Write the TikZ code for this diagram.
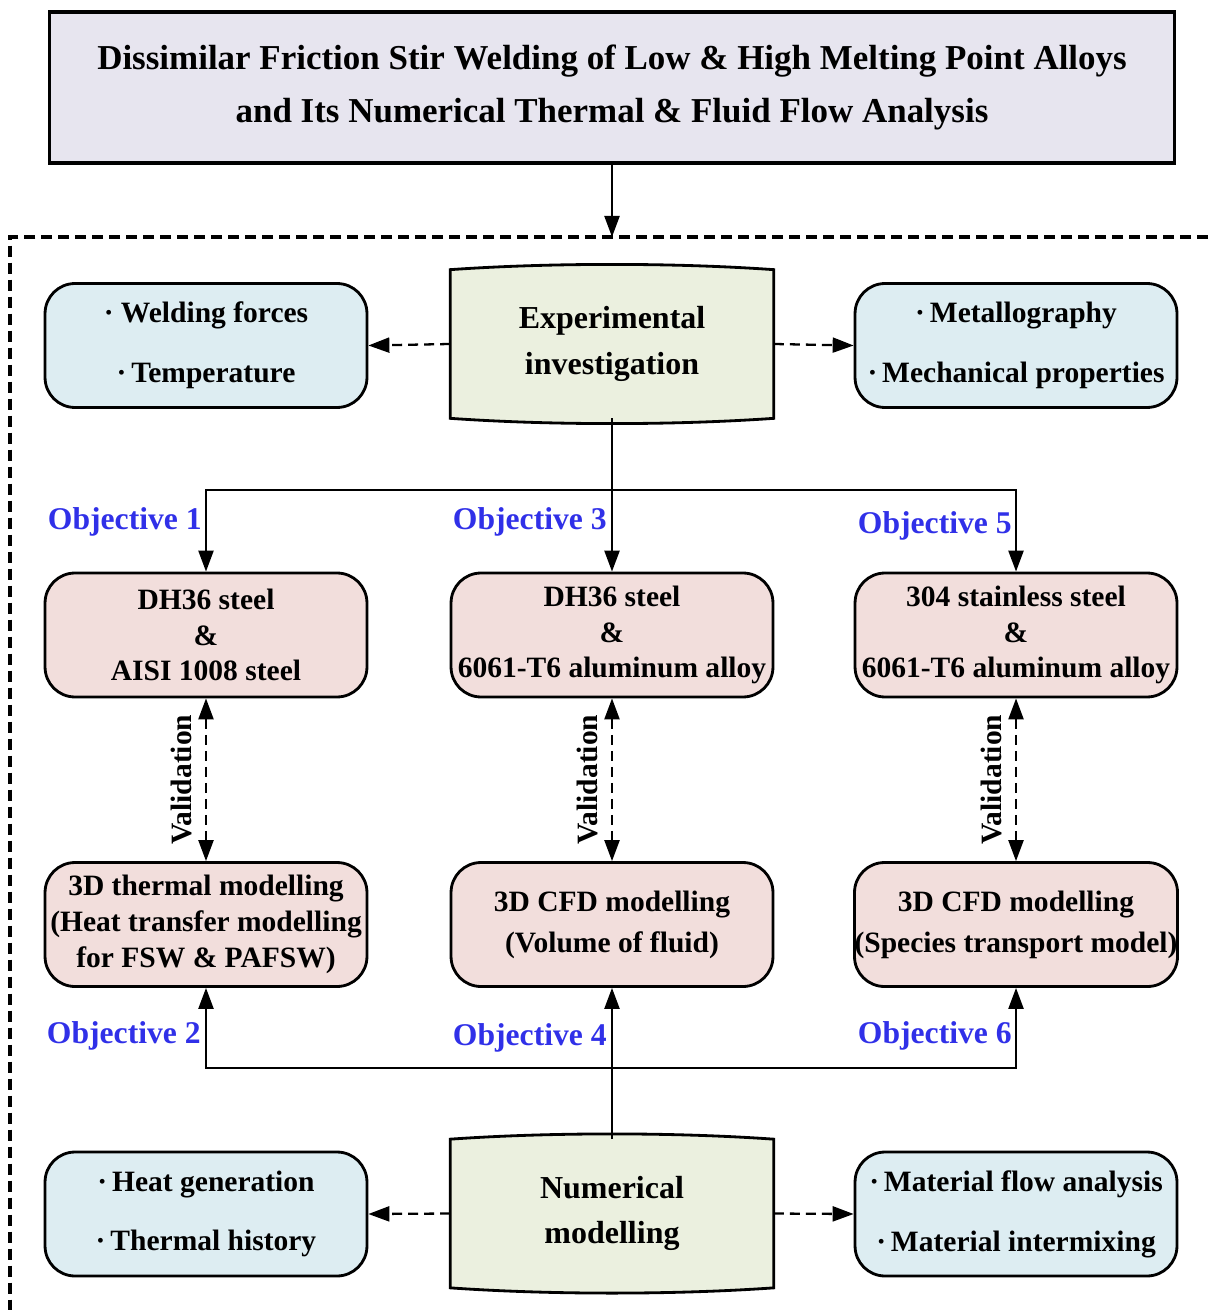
\documentclass[tikz,border=0pt]{standalone}
\usepackage{fontspec}
\setmainfont{Liberation Serif}
\usetikzlibrary{arrows.meta,backgrounds}

\definecolor{titlefill}{HTML}{E7E5EF}
\definecolor{greenfill}{HTML}{EBF0DF}
\definecolor{bluefill}{HTML}{DDEDF2}
\definecolor{pinkfill}{HTML}{F2DEDC}
\definecolor{objblue}{HTML}{3030E8}

\begin{document}
\begin{tikzpicture}[x=0.02cm,y=-0.02cm,
  arrow/.style={-{Triangle[length=0.42cm,width=0.3cm]},line width=1.3pt},
  dasharrow/.style={arrow,dash pattern=on 0.2cm off 0.12cm},
  valarrow/.style={{Triangle[length=0.42cm,width=0.3cm]}-{Triangle[length=0.42cm,width=0.3cm]},line width=1.3pt,dash pattern=on 0.2cm off 0.12cm},
  line/.style={line width=1.3pt},
  frame/.style={line width=2pt,dash pattern=on 0.22cm off 0.12cm},
  box/.style={draw=black,line width=1.6pt,rounded corners=0.6cm,minimum width=6.44cm,minimum height=2.48cm,align=center,inner sep=0pt},
  infobox/.style={box,fill=bluefill,font=\bfseries\fontsize{16.8}{34}\selectfont},
  matbox/.style={box,fill=pinkfill,font=\bfseries\fontsize{16.8}{20}\selectfont},
  cfdbox/.style={box,fill=pinkfill,font=\bfseries\fontsize{16.8}{23.3}\selectfont},
  mainbox/.style={minimum width=6.46cm,minimum height=2.96cm,align=center,font=\bfseries\fontsize{18.2}{26}\selectfont},
  mainshape/.style={draw=black,line width=1.6pt,fill=greenfill},
  titlebox/.style={draw=black,line width=1.8pt,fill=titlefill,minimum width=22.5cm,minimum height=3.02cm,align=center,font=\bfseries\fontsize{19.9}{30}\selectfont},
  objlabel/.style={anchor=east,inner sep=0pt,text=objblue,font=\bfseries\fontsize{18}{20}\selectfont},
  vlabel/.style={rotate=90,anchor=south,inner sep=0.26cm,font=\bfseries\fontsize{16.8}{20}\selectfont},
]
\useasboundingbox (0,0) rectangle (1208,1310);

% title and frame
\node[titlebox] (title) at (612,87.5) {Dissimilar Friction Stir Welding of Low \& High Melting Point Alloys\\and Its Numerical Thermal \& Fluid Flow Analysis};
\draw[frame] (1208,237) -- (10,237) -- (10,1310);
\coordinate (frametop) at (612,237);
\draw[arrow] (title.south) -- (frametop);

% experimental part
\node[mainbox] (exp) at (612,344) {Experimental\\investigation};
\node[infobox] (expL) at (206,345.5) {· Welding forces\\·\,Temperature};
\node[infobox] (expR) at (1016,345.5) {·\,Metallography\\·\,Mechanical properties};
\draw[dasharrow] (exp.west) -- (expL.east);
\draw[dasharrow] (exp.east) -- (expR.west);

% material combinations
\node[matbox] (mat1) at (206,635) {DH36 steel\\\&\\AISI 1008 steel};
\node[matbox] (mat3) at (612,635) {DH36 steel\\\&\\6061-T6 aluminum alloy};
\node[matbox] (mat5) at (1016,635) {304 stainless steel\\\&\\6061-T6 aluminum alloy};
\coordinate (split) at (612,490);
\draw[line] (exp.south) -- (split);
\draw[arrow] (split) -| (mat1.north);
\draw[arrow] (split) -- (mat3.north);
\draw[arrow] (split) -| (mat5.north);
\node[objlabel] (obj1) at (202,522) {Objective 1};
\node[objlabel] (obj3) at (607,522) {Objective 3};
\node[objlabel] (obj5) at (1012,526) {Objective 5};

% models
\node[matbox,font=\bfseries\fontsize{16.8}{20.5}\selectfont] (mod1) at (206,924.5) {3D thermal modelling\\(Heat transfer modelling\\for FSW \& PAFSW)};
\node[cfdbox] (mod3) at (612,924.5) {3D CFD modelling\\(Volume of fluid)};
\node[cfdbox] (mod5) at (1016,924.5) {3D CFD modelling\\(Species transport model)};
\draw[valarrow] (mat1.south) -- node[vlabel] {Validation} (mod1.north);
\draw[valarrow] (mat3.south) -- node[vlabel] {Validation} (mod3.north);
\draw[valarrow] (mat5.south) -- node[vlabel] {Validation} (mod5.north);

% numerical part
\node[mainbox] (num) at (612,1213.5) {Numerical\\modelling};
\node[infobox] (numL) at (206,1214) {·\,Heat generation\\·\,Thermal history};
\node[infobox] (numR) at (1016,1214) {·\,Material flow analysis\\·\,Material intermixing};
\draw[dasharrow] (num.west) -- (numL.east);
\draw[dasharrow] (num.east) -- (numR.west);
\coordinate (join) at (612,1068);
\draw[line] (num.north) -- (join);
\draw[arrow] (join) -| (mod1.south);
\draw[arrow] (join) -- (mod3.south);
\draw[arrow] (join) -| (mod5.south);
\node[objlabel] (obj2) at (201,1036) {Objective 2};
\node[objlabel] (obj4) at (607,1038) {Objective 4};
\node[objlabel] (obj6) at (1012,1036) {Objective 6};

% bulged outline of the two main boxes
\begin{scope}[on background layer]
\foreach \n in {exp,num}{
  \draw[mainshape] (\n.north west) .. controls ([xshift=2cm,yshift=0.14cm]\n.north west) and ([xshift=-2cm,yshift=0.14cm]\n.north east) .. (\n.north east)
    -- (\n.south east) .. controls ([xshift=-2cm,yshift=-0.14cm]\n.south east) and ([xshift=2cm,yshift=-0.14cm]\n.south west) .. (\n.south west) -- cycle;
}
\end{scope}
\end{tikzpicture}
\end{document}
